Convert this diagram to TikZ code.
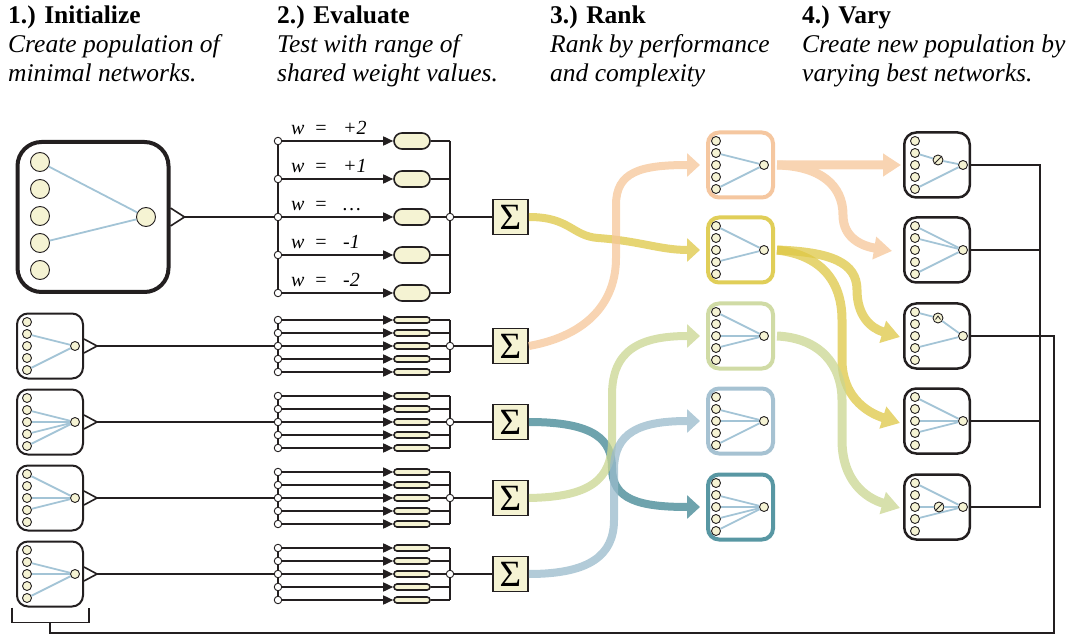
\documentclass[tikz,border=0pt]{standalone}
\usepackage{fontspec}
\setmainfont{Liberation Serif}
\usetikzlibrary{arrows.meta,calc}

\definecolor{ink}{HTML}{231F20}
\definecolor{cell}{HTML}{F5F3D3}
\definecolor{wlink}{HTML}{A3C4D6}
\definecolor{peach}{HTML}{F6C698}
\definecolor{mustard}{HTML}{DEC744}
\definecolor{sage}{HTML}{CAD690}
\definecolor{sky}{HTML}{98BACB}
\definecolor{deepteal}{HTML}{3E8492}
\definecolor{peachE}{HTML}{F5C7A0}
\definecolor{mustardE}{HTML}{E0CE58}
\definecolor{sageE}{HTML}{D0DBA5}
\definecolor{skyE}{HTML}{A6C2D2}
\definecolor{tealE}{HTML}{5897A3}

\tikzset{
  neuron/.style={circle,draw=ink,fill=cell,line width=.9pt,inner sep=0pt,minimum size=9pt},
  bigneuron/.style={neuron,minimum size=19pt},
  mutant/.style={neuron,minimum size=10pt},
  link/.style={draw=wlink,line width=1.8pt},
  wire/.style={draw=ink,line width=1.6pt},
  netbox/.style={draw=ink,rounded corners=11pt,line width=2pt,minimum width=66pt,minimum height=65pt,inner sep=0pt},
  port/.style={circle,draw=ink,fill=white,line width=.9pt,inner sep=0pt,minimum size=7.5pt},
  weight/.style={draw=ink,fill=cell,line width=1.6pt,minimum width=36pt,minimum height=16pt,rounded corners=8pt,inner sep=0pt},
  thinweight/.style={weight,minimum height=6pt,rounded corners=3pt},
  sumbox/.style={draw=ink,fill=cell,line width=1.8pt,minimum size=35pt,inner sep=0pt,font=\fontsize{37}{37}\selectfont},
  flow/.style={line width=8pt,-{Triangle[length=13pt,width=23pt]}},
  flowb/.style={line width=9pt,-{Triangle[length=18pt,width=22pt]}},
  head/.style={anchor=base west,inner sep=0pt,font=\fontsize{25.5}{29}\selectfont},
  wlabel/.style={anchor=base west,inner sep=0pt,font=\itshape\fontsize{20}{20}\selectfont},
}

\newcommand{\netfive}[5]{%
  \foreach \k in {1,...,5} \node[neuron] (#1-\k) at (#2,#4+12*\k-36) {};
  \node[neuron] (#1-o) at (#3,#4) {};
  \edef\netlinks{#5}%
  \foreach \k in \netlinks \draw[link] (#1-\k) -- (#1-o);
}

\begin{document}
\begin{tikzpicture}[x=1pt,y=-1pt]
\useasboundingbox (0,0) rectangle (1068,636);

\foreach \x/\hd/\lna/\lnb [count=\i] in {8/{1.) Initialize}/{Create population of}/{minimal networks.},
    277/{2.) Evaluate}/{Test with range of}/{shared weight values.},
    550/{3.) Rank}/{Rank by performance}/{and complexity},
    802/{4.) Vary}/{Create new population by}/{varying best networks.}} {
  \node[head] (ttl\i) at (\x,24) {\textbf{\hd}};
  \node[head] (dsa\i) at (\x,53) {\textit{\lna}};
  \node[head] (dsb\i) at (\x,82) {\textit{\lnb}};
}

\node[netbox,line width=4pt,rounded corners=24pt,minimum width=151pt,minimum height=150pt] (b1) at (93,217) {};
\foreach \k in {1,...,5} \node[bigneuron] (b1-\k) at (40,135+27*\k) {};
\node[bigneuron] (b1-o) at (146,217) {};
\foreach \k in {1,4} \draw[link] (b1-\k) -- (b1-o);
\draw[wire] ($(b1.east)+(0,-9)$) -- ++(14,9) coordinate (tip1) -- ++(-14,9);

\foreach \r/\y/\lks in {2/346/{2,5},3/422/{2,3,4,5},4/498/{1,3,4},5/574/{2,3,5}} {
  \node[netbox] (b\r) at (50,\y) {};
  \netfive{b\r}{27}{75}{\y}{\lks}
  \draw[wire] ($(b\r.east)+(0,-7)$) -- ++(13,7) coordinate (tip\r) -- ++(-13,7);
}

\foreach \r/\y/\s/\w in {1/217/38/weight,2/346/13/thinweight,3/422/13/thinweight,4/498/13/thinweight,5/574/13/thinweight} {
  \foreach \k in {1,...,5} {
    \node[port] (lp\r-\k) at (278,\y+\s*\k-3*\s) {};
    \node[\w] (wt\r-\k) at (412,\y+\s*\k-3*\s) {};
    \draw[wire,-{Triangle[length=10pt,width=9pt]}] (lp\r-\k) -- (wt\r-\k);
  }
  \foreach \k [count=\n from 2] in {1,...,4} \draw[wire] (lp\r-\k) -- (lp\r-\n);
  \node[port] (rp\r) at (450,\y) {};
  \node[sumbox] (sum\r) at (510.5,\y) {Σ};
  \foreach \k in {1,2,4,5} \draw[wire] (wt\r-\k) -- (wt\r-\k -| rp\r);
  \draw[wire] (wt\r-3) -- (rp\r);
  \draw[wire] (wt\r-1 -| rp\r) -- (rp\r) -- (wt\r-5 -| rp\r);
  \draw[wire] (rp\r) -- (sum\r);
  \draw[wire] (tip\r) -- (lp\r-3);
}

\foreach \k/\v in {1/+2,2/+1,3/\dots,4/-1,5/-2}
  \node[wlabel] (wl\k) at (291,97+38*\k) {\makebox[23pt][l]{w}\makebox[29pt][l]{=}\v};

\coordinate (brk) at (50,622);
\draw[wire] ($(b5.south west)+(-4,0)$) -- ++(0,15) -| ($(b5.south east)+(5,0)$);

\foreach \j/\y/\edgec/\lks in {1/165/peachE/{2,5},2/250/mustardE/{1,4},3/336/sageE/{1,3,4},4/421/skyE/{2,3,5},5/507/tealE/{2,3,4,5}} {
  \node[netbox,draw=\edgec,line width=4pt,minimum size=65pt] (rk\j) at (740.5,\y) {};
  \netfive{rk\j}{716}{764}{\y}{\lks}
}

\foreach \j/\y/\lks in {1/165/{5},2/250/{1,2,5},3/336/{4},4/421/{1,3,4},5/507/{1,4}} {
  \node[netbox,line width=2.5pt,rounded corners=12pt,minimum width=65.5pt,minimum height=65pt] (va\j) at (937,\y) {};
  \netfive{va\j}{915}{963}{\y}{\lks}
}
\node[mutant] (va1-m) at (938,160) {};
\node[mutant] (va3-m) at (938,318) {};
\node[mutant] (va5-m) at (939,507) {};
\draw[link] (va1-2) -- (va1-m) -- (va1-o);
\draw[link] (va3-1) -- (va3-m) -- (va3-o);
\draw[link] (va5-3) -- (va5-m) -- (va5-o);
\draw[ink,line width=.8pt] (va1-m.south west) -- (va1-m.north east);
\draw[ink,line width=.8pt] (va5-m.south west) -- (va5-m.north east);
\draw[ink,line width=.8pt] ($(va3-m)+(-2.5,1.5)$) -- ($(va3-m)+(0,-2)$) -- ($(va3-m)+(2.5,1.5)$);

\draw[wire] (va1.east) -- ++(69,0) coordinate (busT) -- (busT |- va5.east) -- (va5.east);
\draw[wire] (va2.east) -- (va2.east -| busT);
\draw[wire] (va4.east) -- (va4.east -| busT);
\draw[wire] (va3.east) -- ++(83,0) -- ++(0,297) -| (brk);

\begin{scope}[transparency group,opacity=.75]
\draw[flow,mustard] (sum1.east) .. controls (570,217) and (572,236) .. (598,238) .. controls (640,241) and (660,250) .. ($(rk2.west)+(-6,0)$);
\end{scope}
\begin{scope}[transparency group,opacity=.75]
\draw[flow,peach] (sum2.east) .. controls (590,335) and (616,300) .. (616,258) -- (616,205) .. controls (616,172) and (640,165) .. ($(rk1.west)+(-6,0)$);
\end{scope}
\begin{scope}[transparency group,opacity=.75]
\draw[flow,deepteal] (sum3.east) .. controls (595,422) and (612,440) .. (612,468) .. controls (612,500) and (640,507) .. ($(rk5.west)+(-6,0)$);
\end{scope}
\begin{scope}[transparency group,opacity=.75]
\draw[flow,sage] (sum4.east) .. controls (590,497) and (612,480) .. (612,440) -- (612,395) .. controls (612,350) and (640,336) .. ($(rk3.west)+(-6,0)$);
\end{scope}
\begin{scope}[transparency group,opacity=.75]
\draw[flow,sky] (sum5.east) .. controls (590,574) and (614,555) .. (614,520) -- (614,470) .. controls (614,432) and (640,421) .. ($(rk4.west)+(-6,0)$);
\end{scope}

\begin{scope}[transparency group,opacity=.75]
\draw[flowb,peach] ($(rk1.east)+(2,0)$) -- ($(va1.west)+(-2,0)$);
\draw[flowb,peach] ($(rk1.east)+(2,0)$) .. controls (820,166) and (843,185) .. (843,215) .. controls (843,238) and (862,246) .. ($(va2.west)+(-11,1)$);
\end{scope}
\begin{scope}[transparency group,opacity=.75]
\draw[flowb,mustard] ($(rk2.east)+(2,0)$) .. controls (830,252) and (857,262) .. (857,290) .. controls (857,315) and (870,328) .. ($(va3.west)+(-3,1)$);
\end{scope}
\begin{scope}[transparency group,opacity=.75]
\draw[flowb,mustard] ($(rk2.east)+(2,0)$) .. controls (820,255) and (842,280) .. (842,320) -- (842,360) .. controls (842,395) and (865,412) .. ($(va4.west)+(-3,2)$);
\end{scope}
\begin{scope}[transparency group,opacity=.75]
\draw[flowb,sage] ($(rk3.east)+(2,0)$) .. controls (820,338) and (842,365) .. (842,400) -- (842,440) .. controls (842,480) and (865,498) .. ($(va5.west)+(-3,1)$);
\end{scope}
\end{tikzpicture}
\end{document}
